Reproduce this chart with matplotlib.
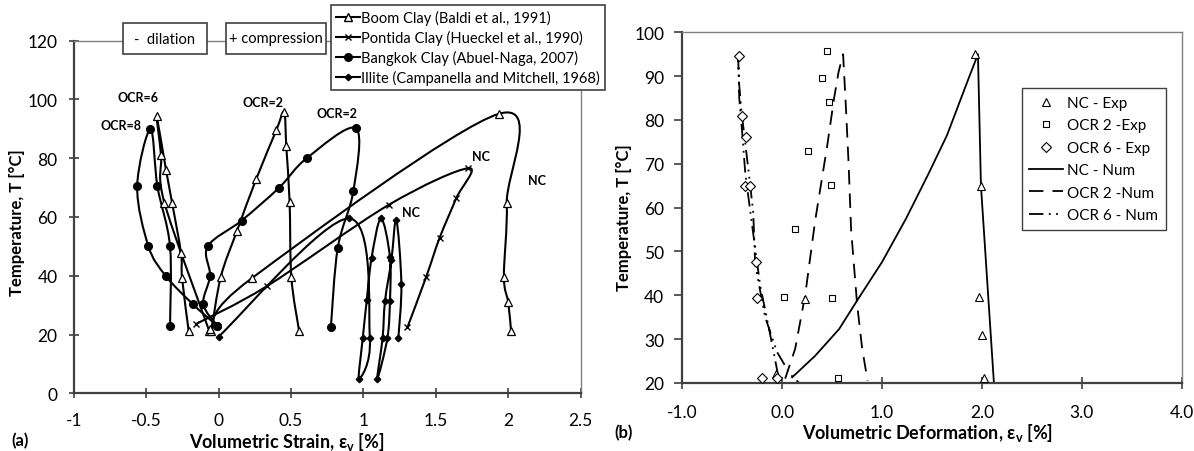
import numpy as np
import matplotlib
matplotlib.use('Agg')
import matplotlib.pyplot as plt
from matplotlib.path import Path
from matplotlib.patches import PathPatch, Rectangle
from matplotlib.lines import Line2D
from matplotlib.ticker import FuncFormatter, MultipleLocator

plt.rcParams['font.family'] = ['Lato', 'DejaVu Sans']
plt.rcParams['mathtext.fontset'] = 'custom'
plt.rcParams['mathtext.rm'] = 'Lato'

# ---- (a) 各试验数据 ----
boom_ocr6_x = [-0.207, -0.253, -0.26, -0.322, -0.364, -0.429, -0.398, -0.375, -0.065]
boom_ocr6_t = [21.1, 39.3, 47.7, 64.9, 76.1, 94.5, 81.0, 64.9, 21.2]
boom_ocr2_x = [-0.05, 0.015, 0.126, 0.26, 0.398, 0.452, 0.467, 0.49, 0.502, 0.556]
boom_ocr2_t = [21.3, 39.7, 55.2, 73.0, 89.5, 95.7, 84.0, 65.1, 39.5, 21.1]
boom_nc_x = [-0.06, 0.23, 1.935, 1.99, 1.97, 2.0, 2.02]
boom_nc_t = [22.0, 39.2, 95.1, 64.9, 39.7, 31.0, 21.1]

pontida_x = [-0.156, 0.331, 1.177, 1.725, 1.64, 1.526, 1.434, 1.304]
pontida_t = [23.6, 36.4, 64.2, 76.6, 66.3, 52.9, 39.7, 22.5]

bangkok_ocr8_x = [-0.336, -0.336, -0.423, -0.471, -0.563, -0.485, -0.366, -0.18, -0.01]
bangkok_ocr8_t = [23.0, 50.0, 70.4, 90.0, 70.4, 50.0, 40.0, 30.4, 23.0]
bangkok_ocr2_x = [-0.01, -0.106, -0.06, -0.076, 0.159, 0.418, 0.608, 0.947, 0.931, 0.823, 0.775]
bangkok_ocr2_t = [23.0, 30.4, 40.0, 50.0, 58.8, 70.0, 80.0, 90.2, 69.0, 49.6, 22.5]

illite_x = [0.0, 0.898, 1.044, 0.968, 0.995, 1.023, 1.056, 1.121, 1.183, 1.183, 1.165,
            1.095, 1.132, 1.149, 1.193, 1.227, 1.262, 1.241]
illite_t = [19.3, 59.5, 18.7, 4.8, 18.7, 31.7, 46.0, 59.5, 46.4, 31.4, 18.7,
            4.8, 18.7, 31.4, 45.3, 59.1, 37.1, 18.7]

# ---- (b) 试验与数值 ----
nc_exp_x = [-0.06, 0.23, 1.935, 1.99, 1.97, 2.0, 2.02]
nc_exp_t = [22.0, 39.2, 95.1, 64.9, 39.7, 31.0, 21.1]
ocr2_exp_x = [0.452, 0.398, 0.467, 0.26, 0.49, 0.126, 0.015, 0.502, 0.556]
ocr2_exp_t = [95.7, 89.5, 84.0, 73.0, 65.1, 55.2, 39.7, 39.5, 21.1]
ocr6_exp_x = [-0.429, -0.398, -0.364, -0.375, -0.322, -0.26, -0.253, -0.207, -0.054]
ocr6_exp_t = [94.5, 81.0, 76.1, 64.9, 64.9, 47.7, 39.3, 21.1, 21.2]

nc_num_x = [0.10, 0.33, 0.57, 0.75, 1.0, 1.24, 1.46, 1.65, 1.85, 1.96, 1.99, 2.12]
nc_num_t = [21.3, 26.2, 32.3, 38.8, 47.6, 57.5, 67.5, 76.5, 88.5, 95.0, 65.0, 20.0]
ocr2_num_x = [0.03, 0.13, 0.23, 0.33, 0.45, 0.52, 0.565, 0.61, 0.64, 0.665, 0.69, 0.75, 0.80, 0.855]
ocr2_num_t = [21.0, 27.8, 40.0, 57.0, 74.0, 85.0, 91.0, 95.0, 82.0, 70.0, 55.0, 38.0, 28.0, 20.5]
ocr6_num_x = [-0.04, -0.125, -0.22, -0.31, -0.37, -0.40, -0.43, -0.44, -0.43, -0.41,
              -0.335, -0.29, -0.27, -0.17, -0.05, 0.08, 0.17]
ocr6_num_t = [21.7, 31.6, 42.2, 57.5, 68.0, 77.0, 85.0, 94.0, 88.0, 82.5,
              68.0, 59.0, 47.0, 35.0, 27.0, 22.0, 20.0]

W, H = 1194, 452
DARK = '#404040'
LIGHT = '#808080'


def smooth_path(xs, ys):
    """Excel 风格的平滑曲线 (Catmull-Rom -> Bezier)"""
    pts = np.column_stack([xs, ys]).astype(float)
    n = len(pts)
    verts = [pts[0]]
    codes = [Path.MOVETO]
    for i in range(n - 1):
        p0 = pts[i - 1] if i > 0 else pts[i]
        p1 = pts[i]
        p2 = pts[i + 1]
        p3 = pts[i + 2] if i + 2 < n else pts[i + 1]
        verts += [p1 + (p2 - p0) / 6, p2 - (p3 - p1) / 6, p2]
        codes += [Path.CURVE4] * 3
    return Path(verts, codes)


def style_axes(ax):
    for s in ['left', 'bottom']:
        ax.spines[s].set_color(DARK)
        ax.spines[s].set_linewidth(1.6)
    for s in ['top', 'right']:
        ax.spines[s].set_color(LIGHT)
        ax.spines[s].set_linewidth(1.0)


fig = plt.figure(figsize=(W / 100, H / 100), dpi=100)

# ================= (a) =================
ax1 = fig.add_axes([73.9 / W, 1 - 394.3 / H, 506.7 / W, 352.6 / H])
series_a = [
    (boom_ocr6_x, boom_ocr6_t, dict(marker='^', ms=5.5, mfc='white', mec='k', mew=0.9)),
    (boom_ocr2_x, boom_ocr2_t, dict(marker='^', ms=5.5, mfc='white', mec='k', mew=0.9)),
    (boom_nc_x, boom_nc_t, dict(marker='^', ms=5.5, mfc='white', mec='k', mew=0.9)),
    (pontida_x, pontida_t, dict(marker='x', ms=4.5, mec='k', mew=1.0)),
    (bangkok_ocr8_x, bangkok_ocr8_t, dict(marker='o', ms=5.5, mfc='k', mec='k')),
    (bangkok_ocr2_x, bangkok_ocr2_t, dict(marker='o', ms=5.5, mfc='k', mec='k')),
    (illite_x, illite_t, dict(marker='D', ms=3.3, mfc='k', mec='k')),
]
for xs, ts, mk in series_a:
    ax1.add_patch(PathPatch(smooth_path(xs, ts), facecolor='none', edgecolor='k', lw=1.5, zorder=2))
    ax1.plot(xs, ts, ls='none', zorder=3, **mk)

ax1.set_xlim(-1, 2.5)
ax1.set_ylim(0, 120)
ax1.xaxis.set_major_locator(MultipleLocator(0.5))
ax1.yaxis.set_major_locator(MultipleLocator(20))
ax1.xaxis.set_major_formatter(FuncFormatter(lambda v, p: f'{v:g}'))
style_axes(ax1)
ax1.tick_params(direction='inout', length=7.5, width=1.2, color=DARK, labelsize=12.5)
ax1.tick_params(axis='x', pad=9.5)
ax1.tick_params(axis='y', pad=8)
ax1.set_xlabel('Volumetric Strain, ε$_\\mathregular{v}$ [%]', fontsize=13, fontweight='bold')
ax1.set_ylabel('Temperature, T [°C]', fontsize=12, fontweight='bold')
ax1.xaxis.set_label_coords(0.42, -0.105)
ax1.yaxis.set_label_coords(-0.096, 0.486)

for txt, x, y in [('OCR=6', -0.556, 101), ('OCR=8', -0.675, 91.4), ('OCR=2', 0.304, 99),
                  ('OCR=2', 0.82, 95.4), ('NC', 1.81, 80.9), ('NC', 2.2, 72.6), ('NC', 1.33, 61.6)]:
    ax1.text(x, y, txt, fontsize=9, fontweight='bold', ha='center', va='center')

handles_a = [
    Line2D([], [], color='k', lw=1.5, marker='^', ms=5.5, mfc='white', mec='k'),
    Line2D([], [], color='k', lw=1.5, marker='x', ms=4.5, mec='k'),
    Line2D([], [], color='k', lw=1.5, marker='o', ms=5.5, mfc='k'),
    Line2D([], [], color='k', lw=1.5, marker='D', ms=3.3, mfc='k'),
]
labels_a = ['Boom Clay (Baldi et al., 1991)', 'Pontida Clay (Hueckel et al., 1990)',
            'Bangkok Clay (Abuel-Naga, 2007)', 'Illite (Campanella and Mitchell, 1968)']
leg = ax1.legend(handles_a, labels_a, loc='upper left', bbox_to_anchor=(0.508, 1.101),
                 borderaxespad=0, fontsize=10.5, frameon=True, fancybox=False,
                 handlelength=1.6, handletextpad=0.1, labelspacing=0.33,
                 borderpad=0.35, framealpha=1)
leg.get_frame().set_edgecolor(DARK)
leg.get_frame().set_linewidth(1.2)
leg.set_zorder(5)

# 顶部说明框
for x0, x1, txt in [(122.5, 207, '-  dilation'), (225.8, 326.4, '+ compression')]:
    fig.add_artist(Rectangle((x0 / W, 1 - 55 / H), (x1 - x0) / W, 31 / H,
                             transform=fig.transFigure, facecolor='white',
                             edgecolor=DARK, lw=1.2, zorder=6))
    fig.text((x0 + x1) / 2 / W, 1 - 39.5 / H, txt, fontsize=10.5, ha='center',
             va='center', zorder=7)

fig.text(11 / W, 1 - 441 / H, '(a)', fontsize=12, fontweight='bold', va='center')

# ================= (b) =================
ax2 = fig.add_axes([682.3 / W, 1 - 384 / H, 499.4 / W, 350.7 / H])
ax2.plot(nc_num_x, nc_num_t, color='k', lw=1.3, zorder=2)
ax2.plot(ocr2_num_x, ocr2_num_t, color='k', lw=1.3, ls=(0, (8, 5)), zorder=2)
ax2.plot(ocr6_num_x, ocr6_num_t, color='k', lw=1.3, ls=(0, (8, 3, 1, 3, 1, 3)), zorder=2)
ax2.plot(nc_exp_x, nc_exp_t, ls='none', marker='^', ms=6, mfc='white', mec='k', mew=0.8, zorder=3)
ax2.plot(ocr2_exp_x, ocr2_exp_t, ls='none', marker='s', ms=5, mfc='white', mec='k', mew=0.8, zorder=3)
ax2.plot(ocr6_exp_x, ocr6_exp_t, ls='none', marker='D', ms=5.5, mfc='white', mec='k', mew=0.8, zorder=3)

ax2.set_xlim(-1, 4)
ax2.set_ylim(20, 100)
ax2.xaxis.set_major_locator(MultipleLocator(1))
ax2.yaxis.set_major_locator(MultipleLocator(10))
ax2.xaxis.set_major_formatter(FuncFormatter(lambda v, p: f'{v:.1f}'))
style_axes(ax2)
ax2.tick_params(direction='out', length=6, width=1.2, color=DARK, labelsize=12.5, pad=7)
ax2.tick_params(axis='x', direction='inout', length=9, pad=10.5)
ax2.set_xlabel('Volumetric Deformation, ε$_\\mathregular{v}$ [%]', fontsize=13, fontweight='bold')
ax2.set_ylabel('Temperature, T [°C]', fontsize=12, fontweight='bold')
ax2.xaxis.set_label_coords(0.492, -0.107)
ax2.yaxis.set_label_coords(-0.1, 0.473)

handles_b = [
    Line2D([], [], ls='none', marker='^', ms=5.5, mfc='white', mec='k', mew=0.8),
    Line2D([], [], ls='none', marker='s', ms=4.5, mfc='white', mec='k', mew=0.8),
    Line2D([], [], ls='none', marker='D', ms=5, mfc='white', mec='k', mew=0.8),
    Line2D([], [], color='k', lw=1.3),
    Line2D([], [], color='k', lw=1.3, ls=(0, (8, 5))),
    Line2D([], [], color='k', lw=1.3, ls=(0, (8, 3, 1, 3, 1, 3))),
]
labels_b = ['NC - Exp', 'OCR 2 -Exp', 'OCR 6 - Exp', 'NC - Num', 'OCR 2 -Num', 'OCR 6 - Num']
leg2 = ax2.legend(handles_b, labels_b, loc='upper right', bbox_to_anchor=(0.9686, 0.840),
                  borderaxespad=0, fontsize=11, frameon=True, fancybox=False,
                  handlelength=2.2, handletextpad=0.3, labelspacing=0.55,
                  borderpad=0.5, framealpha=1)
leg2.get_frame().set_edgecolor(DARK)
leg2.get_frame().set_linewidth(1.0)

fig.text(614 / W, 1 - 433 / H, '(b)', fontsize=12, fontweight='bold', va='center')

plt.savefig('out.png', dpi=100)
